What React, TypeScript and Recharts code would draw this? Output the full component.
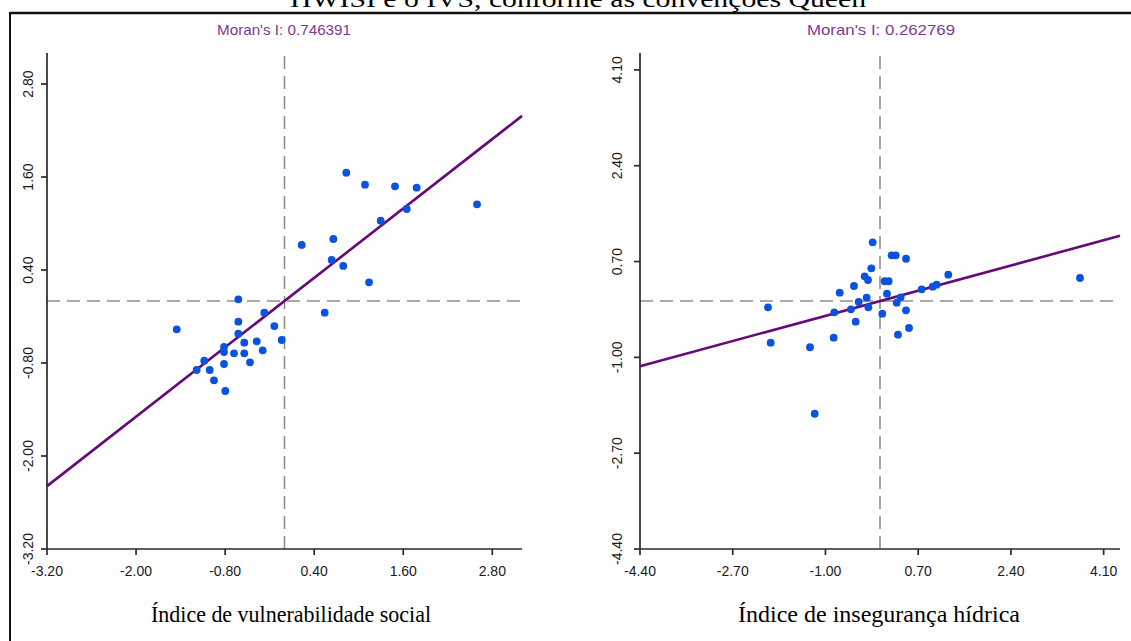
import React from "react";
import { ScatterChart, Scatter, XAxis, YAxis, ReferenceLine } from "recharts";

// Left panel: Índice de vulnerabilidade social (standardized) vs spatial lag
const ivsX = [0.833, 1.085, 1.489, 1.781, 2.594, 1.647, 1.296, 0.232, 0.658, 0.636, 0.792, 1.139, -0.622, 0.542, -0.272, -0.622, -1.452, -0.137, -0.622, -0.038, -0.815, -0.542, -0.374, -0.815, -0.68, -0.542, -0.294, -1.081, -0.465, -0.815, -1.183, -1.008, -0.95, -0.798];
const ivsLag = [1.655, 1.501, 1.48, 1.462, 1.248, 1.187, 1.036, 0.723, 0.8, 0.529, 0.452, 0.241, 0.022, -0.151, -0.151, -0.267, -0.365, -0.323, -0.422, -0.503, -0.593, -0.538, -0.52, -0.658, -0.675, -0.675, -0.636, -0.77, -0.791, -0.813, -0.89, -0.89, -1.023, -1.161];
const ivsMoran = 0.746391;
const ivsTicks = [-3.2, -2.0, -0.8, 0.4, 1.6, 2.8];
const ivsDomain = [-3.2, 3.2];

// Right panel: Índice de insegurança hídrica
const ihX = [-0.134, 0.214, 0.288, 0.477, -0.159, -0.281, -0.22, 0.086, 0.159, 1.252, 3.667, -0.477, -0.739, 0.966, 1.039, 0.764, 0.128, -0.244, -0.391, 0.379, 0.306, -2.053, -0.214, -0.532, -0.838, 0.042, 0.477, -0.446, 0.532, 0.33, -0.849, -2.004, -1.283, -1.197];
const ihLag = [1.041, 0.811, 0.811, 0.75, 0.58, 0.438, 0.373, 0.35, 0.35, 0.467, 0.408, 0.266, 0.147, 0.254, 0.289, 0.208, 0.13, 0.059, -0.018, 0.066, -0.03, -0.112, -0.112, -0.147, -0.201, -0.225, -0.165, -0.367, -0.479, -0.598, -0.651, -0.74, -0.821, -2.0];
const ihMoran = 0.262769;
const ihTicks = [-4.4, -2.7, -1.0, 0.7, 2.4, 4.1];
const ihDomain = [-4.4, 4.4];

const title = "HWISI e o IVS, conforme as convenções Queen";
const leftXLabel = "Índice de vulnerabilidade social";
const rightXLabel = "Índice de insegurança hídrica";

const AXIS = "#2a2a2a";
const TICKFONT = "'Liberation Sans', Arial, sans-serif";

const Dot = (props: any) => {
  const { cx, cy } = props;
  if (cx == null || cy == null) return null;
  return <circle cx={cx} cy={cy} r={3.9} fill="#0a52e0" />;
};

const XTick = (props: any) => {
  const { x, y, payload } = props;
  return (
    <text x={x} y={y + 21} textAnchor="middle" fontSize={14} fontFamily={TICKFONT} fill="#1a1a1a">
      {Number(payload.value).toFixed(2)}
    </text>
  );
};

const makeYTick = (off: number) => (props: any) => {
  const { x, y, payload } = props;
  const bx = x - off;
  return (
    <text
      x={bx}
      y={y}
      transform={`rotate(-90, ${bx}, ${y})`}
      textAnchor="middle"
      fontSize={14}
      fontFamily={TICKFONT}
      fill="#1a1a1a"
    >
      {Number(payload.value).toFixed(2)}
    </text>
  );
};

type PanelProps = {
  xs: number[];
  ys: number[];
  slope: number;
  ticks: number[];
  domain: number[];
  left: number;
  width: number;
  marginLeft: number;
  marginRight: number;
  yTickOff: number;
};

const Panel = ({ xs, ys, slope, ticks, domain, left, width, marginLeft, marginRight, yTickOff }: PanelProps) => {
  const data = xs.map((x, i) => ({ x, y: ys[i] }));
  const [lo, hi] = domain;
  return (
    <div style={{ position: "absolute", left, top: 0 }}>
      <ScatterChart
        width={width}
        height={600}
        margin={{ top: 53, right: marginRight, bottom: 21, left: marginLeft }}
      >
        <XAxis
          type="number"
          dataKey="x"
          domain={domain}
          ticks={ticks}
          allowDataOverflow
          height={30}
          tickSize={6}
          tickMargin={0}
          axisLine={{ stroke: AXIS, strokeWidth: 1.7 }}
          tickLine={{ stroke: AXIS, strokeWidth: 1.7 }}
          tick={<XTick />}
          interval={0}
        />
        <YAxis
          type="number"
          dataKey="y"
          domain={domain}
          ticks={ticks}
          allowDataOverflow
          width={37}
          tickSize={6}
          tickMargin={0}
          axisLine={{ stroke: AXIS, strokeWidth: 1.7 }}
          tickLine={{ stroke: AXIS, strokeWidth: 1.7 }}
          tick={makeYTick(yTickOff)}
          interval={0}
        />
        <ReferenceLine x={0} stroke="#8f8f8f" strokeWidth={1.6} strokeDasharray="13 7" />
        <ReferenceLine y={0} stroke="#8f8f8f" strokeWidth={1.6} strokeDasharray="13 7" />
        <ReferenceLine
          segment={[
            { x: lo, y: lo * slope },
            { x: hi, y: hi * slope },
          ]}
          stroke="#650a77"
          strokeWidth={2.6}
        />
        <Scatter data={data} shape={<Dot />} isAnimationActive={false} />
      </ScatterChart>
    </div>
  );
};

export default function App() {
  return (
    <div
      style={{
        position: "absolute",
        left: 0,
        top: 0,
        width: 1131,
        height: 641,
        background: "#fff",
        overflow: "hidden",
      }}
    >
      <Panel
        xs={ivsX}
        ys={ivsLag}
        slope={ivsMoran}
        ticks={ivsTicks}
        domain={ivsDomain}
        left={0}
        width={560}
        marginLeft={10}
        marginRight={38}
        yTickOff={8}
      />
      <Panel
        xs={ihX}
        ys={ihLag}
        slope={ihMoran}
        ticks={ihTicks}
        domain={ihDomain}
        left={560}
        width={571}
        marginLeft={43}
        marginRight={11}
        yTickOff={12}
      />
      <svg
        width={1131}
        height={641}
        style={{ position: "absolute", left: 0, top: 0, pointerEvents: "none" }}
      >
        <line x1={10} y1={13} x2={1131} y2={13} stroke="#111" strokeWidth={2.5} />
        <line x1={10} y1={12} x2={10} y2={641} stroke="#111" strokeWidth={2} />
        <text
          x={578}
          y={7}
          textAnchor="middle"
          fontSize={24}
          fontFamily="'Liberation Serif', 'Times New Roman', serif"
          fill="#000"
          textLength={576}
          lengthAdjust="spacingAndGlyphs"
        >
          {title}
        </text>
        <text
          x={284}
          y={35}
          textAnchor="middle"
          fontSize={15}
          fontFamily={TICKFONT}
          fill="#7d3a92"
          textLength={134}
          lengthAdjust="spacingAndGlyphs"
        >
          {`Moran's I: ${ivsMoran}`}
        </text>
        <text
          x={881}
          y={35}
          textAnchor="middle"
          fontSize={15}
          fontFamily={TICKFONT}
          fill="#7d3a92"
          textLength={148}
          lengthAdjust="spacingAndGlyphs"
        >
          {`Moran's I: ${ihMoran}`}
        </text>
        <text
          x={291}
          y={622}
          textAnchor="middle"
          fontSize={24}
          fontFamily="'Liberation Serif', 'Times New Roman', serif"
          fill="#000"
          textLength={280}
          lengthAdjust="spacingAndGlyphs"
        >
          {leftXLabel}
        </text>
        <text
          x={879}
          y={622}
          textAnchor="middle"
          fontSize={24}
          fontFamily="'Liberation Serif', 'Times New Roman', serif"
          fill="#000"
          textLength={282}
          lengthAdjust="spacingAndGlyphs"
        >
          {rightXLabel}
        </text>
      </svg>
    </div>
  );
}
